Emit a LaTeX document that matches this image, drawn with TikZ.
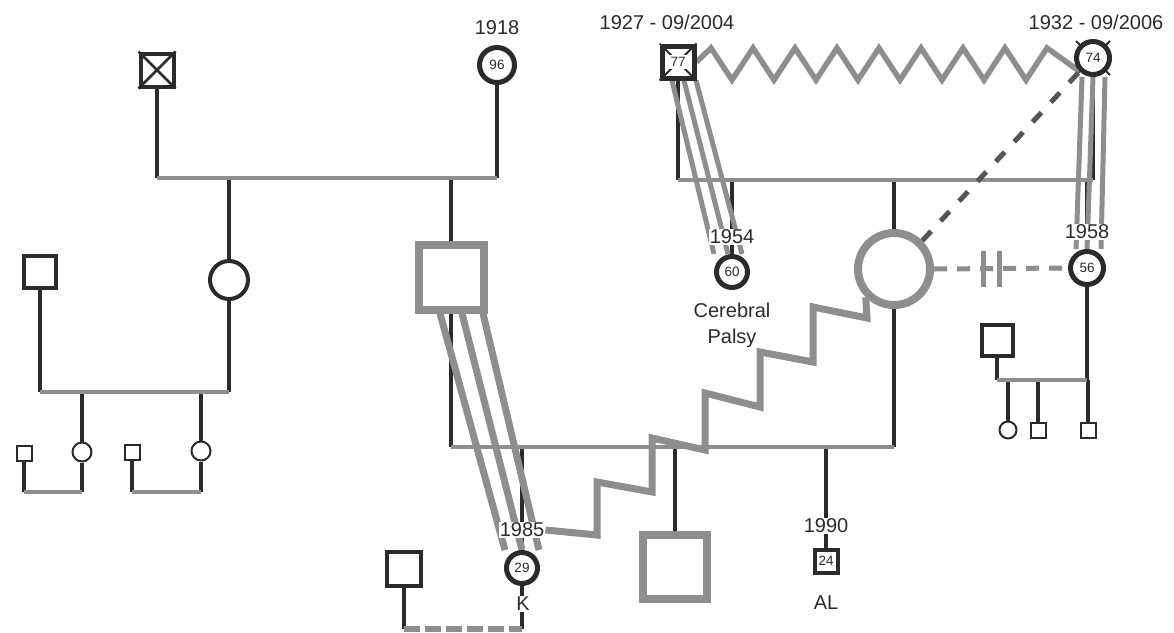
\documentclass[tikz,border=0pt]{standalone}
\usepackage{fontspec}
\setmainfont{Liberation Sans}
\usetikzlibrary{calc}
\pgfdeclarelayer{bg}
\pgfsetlayers{bg,main}
\definecolor{blk}{HTML}{2B2B2B}
\definecolor{gry}{HTML}{8E8E8E}
\definecolor{dgry}{HTML}{555555}
\newcommand\fbig{\fontsize{20}{26}\selectfont}
\newcommand\fsml{\fontsize{13.5}{15}\selectfont}
\tikzset{
  kline/.style={draw=blk, line width=3.5pt},
  gline/.style={draw=gry, line width=4pt, line cap=square},
  relg/.style={draw=gry, line width=7pt},
  relt/.style={draw=gry, line width=5pt},
  zigtop/.style={draw=gry, line width=5.5pt, line join=miter},
  zigmid/.style={draw=gry, line width=7pt, line join=miter},
  dashk/.style={draw=dgry, line width=5pt, dash pattern=on 13pt off 14pt},
  dashg/.style={draw=gry, line width=5pt, dash pattern=on 13pt off 10pt},
  dashb/.style={draw=gry, line width=6pt, dash pattern=on 16pt off 5pt},
  sqk/.style={rectangle, draw=blk, fill=white, inner sep=0pt, text=blk},
  cik/.style={circle, draw=blk, fill=white, inner sep=0pt, text=blk},
  sqg/.style={rectangle, draw=gry, fill=white, line width=8pt, inner sep=0pt},
  cig/.style={circle, draw=gry, fill=white, line width=8pt, inner sep=0pt},
  lab/.style={fill=white, inner sep=1pt, font=\fbig, text=blk},
}
\begin{document}
\begin{tikzpicture}[x=1pt,y=-1pt]
\useasboundingbox (0,0) rectangle (1174,632);
% ---------- persons ----------
% grandparents left
\node[sqk, line width=4pt, minimum size=33pt] (gf) at (157,70) {};
\draw[blk, line width=2.5pt] (gf.north west) -- (gf.south east) (gf.north east) -- (gf.south west);
\node[cik, line width=5pt, minimum size=35pt, font=\fsml] (gm) at (497,65) {96};
\node[lab] (y18) at (497,28) {1918};
% left branch
\node[cik, line width=4pt, minimum size=38pt] (au) at (229,280) {};
\node[sqk, line width=4pt, minimum size=32pt] (un) at (40,272) {};
\node[cik, line width=2pt, minimum size=19pt] (k1) at (82,452) {};
\node[cik, line width=2pt, minimum size=19pt] (k2) at (201,451) {};
\node[sqk, line width=2pt, minimum size=15pt] (s1) at (24,453) {};
\node[sqk, line width=2pt, minimum size=15pt] (s2) at (132,452) {};
% middle family
\node[sqg, minimum size=65pt] (fa) at (451,277) {};
\node[cig, minimum size=72pt] (bc) at (894,269) {};
\node[cik, line width=5pt, minimum size=31pt, font=\fsml] (K) at (522,568) {29};
\node[sqg, minimum size=64pt] (br) at (675,567) {};
\node[sqk, line width=4pt, minimum size=23pt, font=\fsml] (al) at (826,561) {24};
\node[sqk, line width=4pt, minimum size=34pt] (kp) at (404,569) {};
\node[lab] (y85) at (522,530) {1985};
\node[lab] (lk) at (523,604) {K};
\node[lab] (y90) at (826,526) {1990};
\node[lab] (lal) at (826,603) {AL};
% top right grandparents
\node[sqk, line width=5pt, minimum size=32pt] (gp) at (678,62) {};
\draw[blk, line width=2pt] (gp.north west) -- (gp.south east) (gp.north east) -- (gp.south west);
\node[fill=white, inner sep=2.5pt, font=\fsml, text=blk] (a77) at (gp.center) {77};
\node[cik, line width=5pt, minimum size=33pt, font=\fsml] (gw) at (1093,58) {74};
\node[lab] (d27) at (667,22) {1927 - 09/2004};
\node[lab] (d32) at (1096,22) {1932 - 09/2006};
\node[cik, line width=5pt, minimum size=31pt, font=\fsml] (p60) at (732,272) {60};
\node[lab] (y54) at (732,237) {1954};
\node[font=\fbig, text=blk, align=center, inner sep=0pt] (cp) at (732,325) {Cerebral\\Palsy};
\node[cik, line width=5pt, minimum size=33pt, font=\fsml] (p56) at (1087,268) {56};
\node[lab] (y58) at (1087,232) {1958};
% right branch
\node[sqk, line width=4pt, minimum size=31pt] (rs) at (997,340) {};
\node[cik, line width=2pt, minimum size=17pt] (rk1) at (1008,430) {};
\node[sqk, line width=2pt, minimum size=15pt] (rk2) at (1038,430) {};
\node[sqk, line width=2pt, minimum size=15pt] (rk3) at (1088,430) {};
% ---------- coordinates ----------
\coordinate (m1l) at (157,178); \coordinate (m1r) at (497,178);
\coordinate (m2l) at (40,392);  \coordinate (m2r) at (229,392);
\coordinate (m6l) at (24,492);  \coordinate (m6r) at (82,492);
\coordinate (m7l) at (132,492); \coordinate (m7r) at (201,492);
\coordinate (m3l) at (451,447); \coordinate (m3r) at (894,447);
\coordinate (m4l) at (678,180); \coordinate (m4r) at (1093,180);
\coordinate (m5l) at (997,380); \coordinate (m5r) at (1087,380);
\coordinate (kb) at (522,629);  \coordinate (kpb) at (404,629);
% ---------- connectors ----------
\begin{pgfonlayer}{bg}
% black lines
\draw[kline] (gf.south) -- (m1l) (gm.south) -- (m1r);
\draw[kline] (au.north |- m1l) -- (au.north) (fa.north |- m1l) -- (fa.north);
\draw[kline] (un.south) -- (m2l) (au.south) -- (m2r);
\draw[kline] (k1.north |- m2l) -- (k1.north) (k2.north |- m2l) -- (k2.north);
\draw[kline] (s1.south) -- (m6l) (k1.south) -- (m6r);
\draw[kline] (s2.south) -- (m7l) (k2.south) -- (m7r);
\draw[kline] (fa.south) -- (m3l) (bc.south) -- (m3r);
\draw[kline] (K.north |- m3l) -- (K.north) (br.north |- m3l) -- (br.north) (al.north |- m3l) -- (al.north);
\draw[kline] (gp.south) -- (m4l) (gw.south) -- (m4r);
\draw[kline] (p60.north |- m4l) -- (p60.north) (bc.north |- m4l) -- (bc.north) (p56.north |- m4l) -- (p56.north);
\draw[kline] (rs.south) -- (m5l) (p56.south) -- (m5r);
\draw[kline] (rk1.north |- m5l) -- (rk1.north) (rk2.north |- m5l) -- (rk2.north) (rk3.north |- m5l) -- (rk3.north);
\draw[kline] (K.south) -- (kb) (kp.south) -- (kpb);
% X ticks of the deceased grandmother
\draw[blk, line width=2pt] ($(gw)+(-17,-17)$) -- ($(gw)+(17,17)$) ($(gw)+(17,-17)$) -- ($(gw)+(-17,17)$);
% grey marriage lines
\draw[gline] (m1l) -- (m1r);
\draw[gline] (m2l) -- (m2r);
\draw[gline] (m6l) -- (m6r);
\draw[gline] (m7l) -- (m7r);
\draw[gline] (m3l) -- (m3r);
\draw[gline] (m4l) -- (m4r);
\draw[gline] (m5l) -- (m5r);
\draw[dashb] (kpb) -- (kb);
% relationship lines
\draw[relg] ([xshift=-11pt]fa.south) -- ([xshift=-17pt]K.north);
\draw[relg] ([xshift=11pt]fa.south) -- (K.north);
\draw[relg] ([xshift=32pt]fa.south) -- ([xshift=17pt]K.north);
\draw[relt] ([xshift=-6pt]gp.south) -- ([xshift=-18pt]p60.north);
\draw[relt] ([xshift=6pt]gp.south) -- ([xshift=-4pt]p60.north);
\draw[relt] ([xshift=18pt]gp.south) -- ([xshift=10pt]p60.north);
\draw[relt] ([xshift=-11pt]gw.south) -- ([xshift=-11pt]p56.north);
\draw[relt] (gw.south) -- (p56.north);
\draw[relt] ([xshift=12pt]gw.south) -- ([xshift=14pt]p56.north);
% zigzags
\draw[zigtop] (gp.east) \foreach \k in {0,...,7} { -- ({711+42*\k},48) -- ({732+42*\k},80) } -- (1047,48) -- (gw.south west);
\draw[zigmid] (y85.east) -- (597,535) -- (597,482) -- (652,492) -- (652,438) -- (705,450) -- (705,393) -- (760,407) -- (760,352) -- (813,362) -- (813,307) -- (867,318) -- (bc.south west);
% dashed
\draw[dashk] (bc.north east) -- (gw.south west);
\draw[dashg] (bc.east) -- (p56.west)
  coordinate[pos=0.366] (cut1) coordinate[pos=0.49] (cut2);
\draw[draw=gry, line width=5pt] ($(cut1)+(0,-18)$) -- ($(cut1)+(0,18)$) ($(cut2)+(0,-18)$) -- ($(cut2)+(0,18)$);
\end{pgfonlayer}
\end{tikzpicture}
\end{document}
